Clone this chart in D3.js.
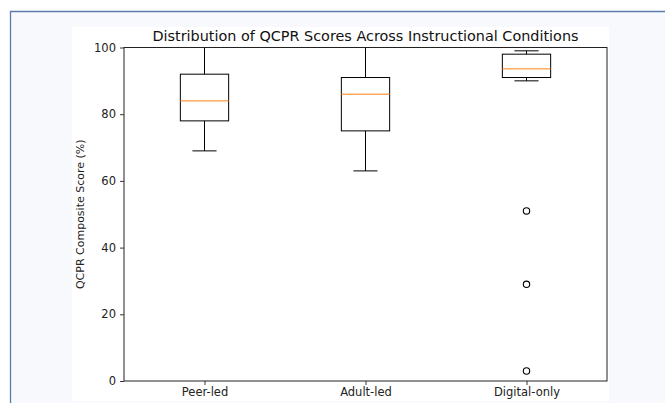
<!DOCTYPE html>
<html>
<head>
<meta charset="utf-8">
<script src="https://cdn.jsdelivr.net/npm/d3@7"></script>
<style>
  body { margin: 0; background: #ffffff; }
  svg { display: block; }
  .tick text { font-family: "DejaVu Sans", sans-serif; font-size: 11.5px; fill: #222; }
</style>
</head>
<body>
<div id="chart"></div>
<script>
// box statistics
const categories = ["Peer-led", "Adult-led", "Digital-only"];
const whiskerLow = [69, 63, 90];
const q1 = [78, 75, 91];
const medians = [84, 86, 93.6];
const q3 = [92, 91, 98];
const whiskerHigh = [100, 100, 99];
const outliers = [[], [], [51, 29, 3]];
const yTicks = [0, 20, 40, 60, 80, 100];

const svgWidth = 665;
const svgHeight = 403;

// plot area inside the figure
const plot = { left: 124, right: 607, top: 47.5, bottom: 381 };

const svg = d3.select("#chart")
  .append("svg")
  .attr("width", svgWidth)
  .attr("height", svgHeight);

// page frame
svg.append("rect")
  .attr("x", 10).attr("y", 11)
  .attr("width", svgWidth).attr("height", svgHeight)
  .attr("fill", "#f7f9fc");
svg.append("path")
  .attr("d", `M10.5,${svgHeight} V11.5 H${svgWidth}`)
  .attr("fill", "none")
  .attr("stroke", "#5a7cab")
  .attr("stroke-width", 1.3);

// figure background
svg.append("rect")
  .attr("x", 72).attr("y", 27)
  .attr("width", 537).attr("height", 374)
  .attr("fill", "#ffffff");

const xScale = d3.scaleLinear()
  .domain([0.5, 3.5])
  .range([plot.left, plot.right]);

const yScale = d3.scaleLinear()
  .domain([0, 100])
  .range([plot.bottom, plot.top]);

const boxW = xScale(1.3) - xScale(1);
const capW = boxW / 2;

// axes
const yAxis = svg.append("g")
  .attr("transform", `translate(${plot.left}, 0)`)
  .call(d3.axisLeft(yScale).tickValues(yTicks).tickSize(4).tickPadding(4));
yAxis.select(".domain").remove();

const xAxis = svg.append("g")
  .attr("transform", `translate(0, ${plot.bottom})`)
  .call(d3.axisBottom(xScale)
    .tickValues([1, 2, 3])
    .tickFormat((d, i) => categories[i])
    .tickSize(4).tickPadding(3));
xAxis.select(".domain").remove();

svg.selectAll(".tick line").attr("stroke", "#222").attr("stroke-width", 0.9);

// boxes
const boxes = svg.selectAll("g.box")
  .data(categories)
  .enter()
  .append("g")
  .classed("box", true);

boxes.each(function(d, i) {
  const g = d3.select(this);
  const cx = xScale(i + 1);

  // whiskers
  g.append("line")
    .attr("x1", cx).attr("x2", cx)
    .attr("y1", yScale(q3[i])).attr("y2", yScale(whiskerHigh[i]))
    .attr("stroke", "#000").attr("stroke-width", 1);
  g.append("line")
    .attr("x1", cx).attr("x2", cx)
    .attr("y1", yScale(q1[i])).attr("y2", yScale(whiskerLow[i]))
    .attr("stroke", "#000").attr("stroke-width", 1);

  // caps
  [whiskerHigh[i], whiskerLow[i]].forEach(v => {
    g.append("line")
      .attr("x1", cx - capW / 2).attr("x2", cx + capW / 2)
      .attr("y1", yScale(v)).attr("y2", yScale(v))
      .attr("stroke", "#000").attr("stroke-width", 1);
  });

  // box
  g.append("rect")
    .attr("x", cx - boxW / 2)
    .attr("y", yScale(q3[i]))
    .attr("width", boxW)
    .attr("height", yScale(q1[i]) - yScale(q3[i]))
    .attr("fill", "none")
    .attr("stroke", "#000")
    .attr("stroke-width", 1);

  // median
  g.append("line")
    .attr("x1", cx - boxW / 2).attr("x2", cx + boxW / 2)
    .attr("y1", yScale(medians[i])).attr("y2", yScale(medians[i]))
    .attr("stroke", "#ff7f0e").attr("stroke-width", 1);

  // fliers
  g.selectAll("circle")
    .data(outliers[i])
    .enter()
    .append("circle")
    .attr("cx", cx)
    .attr("cy", v => yScale(v))
    .attr("r", 3.2)
    .attr("fill", "none")
    .attr("stroke", "#000")
    .attr("stroke-width", 1.1);
});

// spines
svg.append("rect")
  .attr("x", plot.left).attr("y", plot.top)
  .attr("width", plot.right - plot.left)
  .attr("height", plot.bottom - plot.top)
  .attr("fill", "none")
  .attr("stroke", "#222")
  .attr("stroke-width", 1);

// title
svg.append("text")
  .attr("x", (plot.left + plot.right) / 2)
  .attr("y", 41)
  .attr("text-anchor", "middle")
  .style("font-family", "DejaVu Sans, sans-serif")
  .style("font-size", "14.4px")
  .style("fill", "#111")
  .text("Distribution of QCPR Scores Across Instructional Conditions");

// y label
svg.append("text")
  .attr("transform", `translate(84, ${(plot.top + plot.bottom) / 2}) rotate(-90)`)
  .attr("text-anchor", "middle")
  .style("font-family", "DejaVu Sans, sans-serif")
  .style("font-size", "11px")
  .style("fill", "#222")
  .text("QCPR Composite Score (%)");
</script>
</body>
</html>
